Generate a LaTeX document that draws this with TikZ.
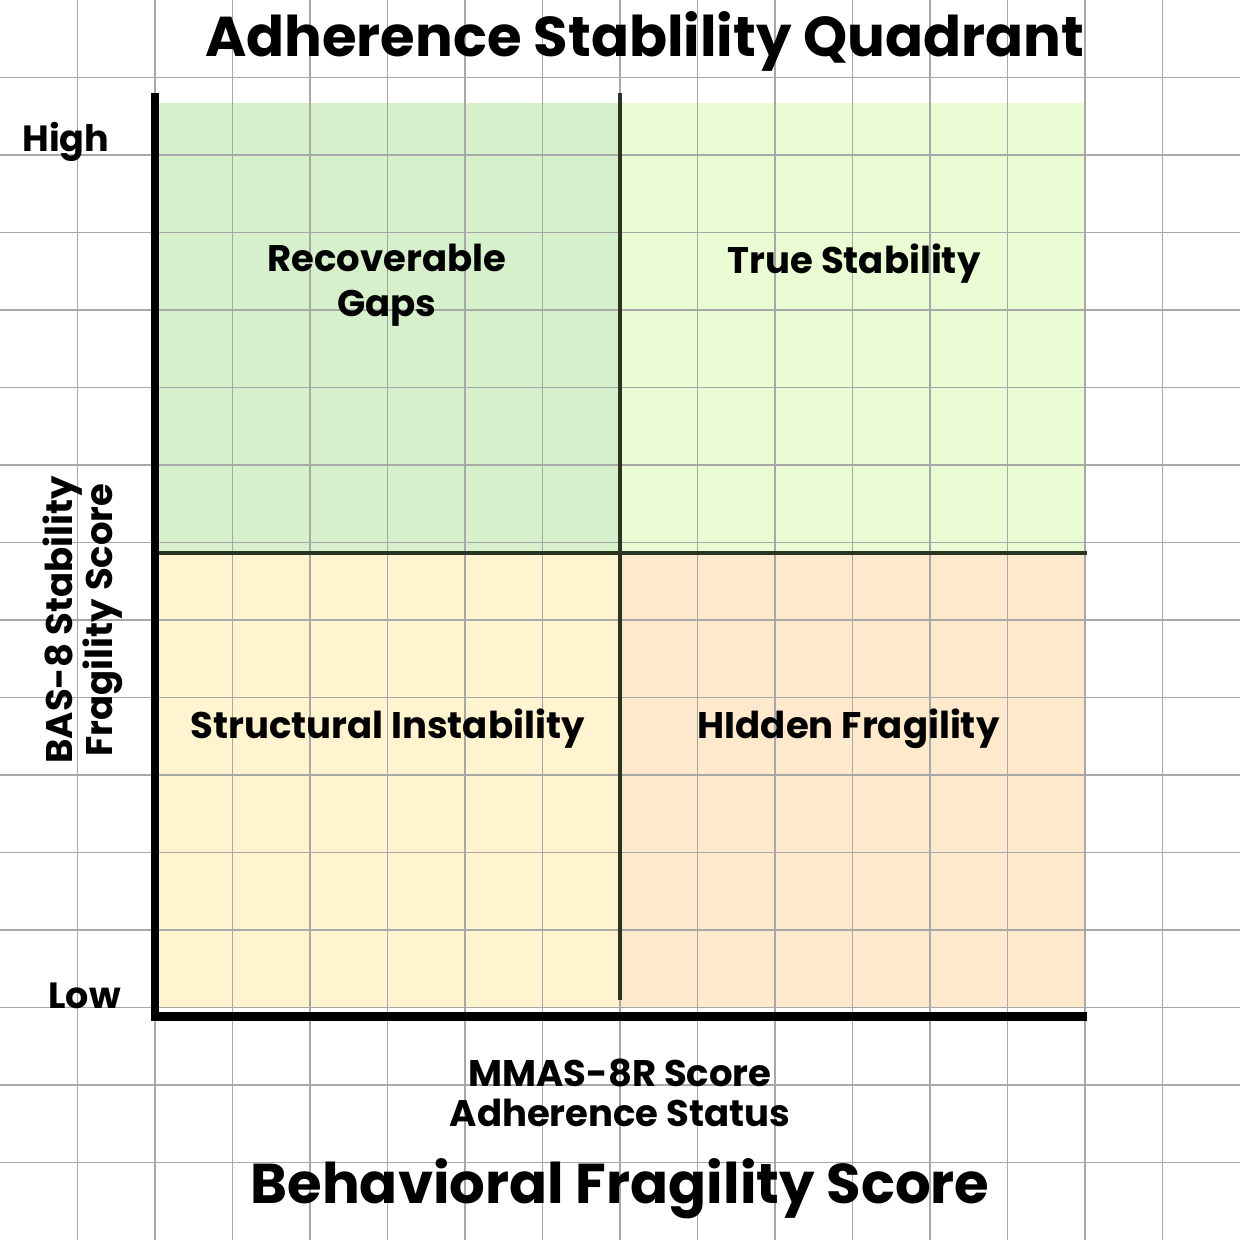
\documentclass[tikz,border=0pt]{standalone}
\usepackage{fontspec}
\usepackage{xcolor}
\setmainfont{Poppins}

\definecolor{recovgreen}{HTML}{D6F0CC}
\definecolor{truegreen}{HTML}{EAFCD4}
\definecolor{structyellow}{HTML}{FFF3D0}
\definecolor{hiddenorange}{HTML}{FFE9CC}
\definecolor{divider}{HTML}{2B3322}
\definecolor{gridgray}{HTML}{A8A8A8}

\begin{document}
\begin{tikzpicture}[x=1cm, y=1cm,
    gridline/.style={gridgray, line width=0.6pt},
    axisline/.style={black, line width=3.4pt},
    splitline/.style={divider, line width=1.3pt},
    quadlabel/.style={font=\bfseries\fontsize{13.6}{16.5}\selectfont, align=center},
    ticklabel/.style={font=\bfseries\fontsize{13.4}{15}\selectfont},
    axislabel/.style={font=\bfseries\fontsize{13.6}{14.6}\selectfont, align=center},
    bigtitle/.style={font=\bfseries\fontsize{20.6}{23}\selectfont}]
    \useasboundingbox (0,0) rectangle (16,16);
    \fill[white] (0,0) rectangle (16,16);
    % quadrant fills
    \fill[recovgreen] (2.03,8.865) rectangle (8,14.67);
    \fill[truegreen] (8,8.865) rectangle (14,14.67);
    \fill[structyellow] (2.03,2.99) rectangle (8,8.865);
    \fill[hiddenorange] (8,2.99) rectangle (14,8.865);
    % background grid
    \foreach \i in {1,...,15} {
        \draw[gridline] (\i,0) -- (\i,16);
        \draw[gridline] (0,\i) -- (16,\i);
    }
    % corner points of the plot
    \coordinate (origin) at (2,2.88);
    \coordinate (ytop) at (2,14.8);
    \coordinate (xend) at (14.02,2.88);
    \coordinate (midtop) at (8,14.8);
    \coordinate (midbot) at (8,3.1);
    \coordinate (midleft) at (2.03,8.865);
    \coordinate (midright) at (14.02,8.865);
    % dividers
    \draw[splitline] (midtop) -- (midbot);
    \draw[splitline] (midleft) -- (midright);
    % axes
    \draw[axisline, line width=2.9pt] (ytop) -- ([yshift=-1.7pt]origin);
    \draw[axisline] ([xshift=-1.45pt]origin) -- (xend);
    % labels
    \node[bigtitle] (title) at (8.32,15.47) {Adherence Stablility Quadrant};
    \node[ticklabel] (high) at (0.85,14.17) {High};
    \node[ticklabel] (low) at (1.09,3.15) {Low};
    \node[quadlabel] (recov) at (4.99,12.32) {Recoverable\\Gaps};
    \node[quadlabel] (truestab) at (11.02,12.6) {True Stability};
    \node[quadlabel] (struct) at (5.0,6.6) {Structural Instability};
    \node[quadlabel] (hidden) at (10.95,6.6) {HIdden Fragility};
    \node[axislabel, rotate=90] (ylab) at (1.07,8.0) {BAS-8 Stability\\Fragility Score};
    \node[axislabel] (xlab) at (8.0,1.9) {MMAS-8R Score\\Adherence Status};
    \node[bigtitle] (bottomtitle) at (8.0,0.66) {Behavioral Fragility Score};
\end{tikzpicture}
\end{document}
